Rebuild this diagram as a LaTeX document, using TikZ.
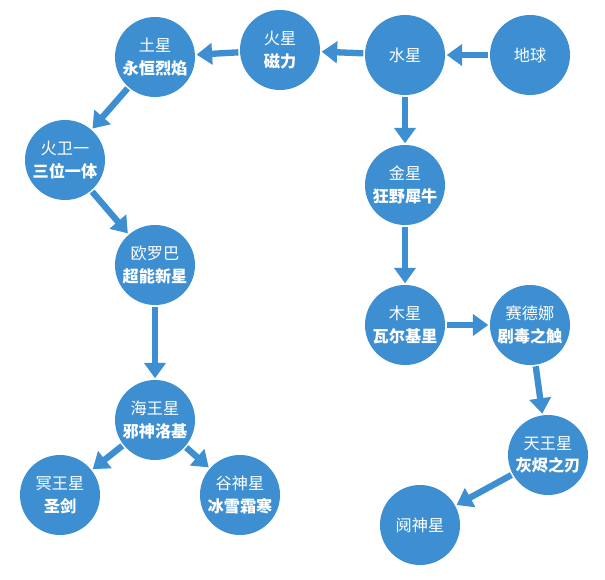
\documentclass[tikz,border=0pt]{standalone}
\usepackage{fontspec}
\setmainfont{Noto Sans CJK SC}
\usetikzlibrary{arrows.meta}
\definecolor{planetblue}{RGB}{61,143,209}
\tikzset{
  planet/.style={circle, fill=planetblue, text=white, minimum size=2cm, inner sep=0pt, align=center, font=\fontsize{11.5}{16}\selectfont},
  link/.style={planetblue, line width=4.5pt, -{Triangle[length=11pt,width=15pt]}, shorten <=1pt, shorten >=1pt}
}
\begin{document}
\begin{tikzpicture}[x=0.025cm, y=-0.025cm]
\useasboundingbox (0,0) rectangle (605,579);

\node[planet] (earth) at (530,55) {地球};
\node[planet] (mercury) at (405,55) {水星};
\node[planet] (mars) at (280,50) {火星\\\textbf{磁力}};
\node[planet] (saturn) at (155,57) {土星\\\textbf{永恒烈焰}};
\node[planet] (phobos) at (65,160) {火卫一\\\textbf{三位一体}};
\node[planet] (europa) at (155,265) {欧罗巴\\\textbf{超能新星}};
\node[planet] (neptune) at (155,420) {海王星\\\textbf{邪神洛基}};
\node[planet] (pluto) at (60,495) {冥王星\\\textbf{圣剑}};
\node[planet] (ceres) at (240,495) {谷神星\\\textbf{冰雪霜寒}};
\node[planet] (venus) at (405,185) {金星\\\textbf{狂野犀牛}};
\node[planet] (jupiter) at (405,325) {木星\\\textbf{瓦尔基里}};
\node[planet] (sedna) at (530,325) {赛德娜\\\textbf{剧毒之触}};
\node[planet] (uranus) at (548,455) {天王星\\\textbf{灰烬之刃}};
\node[planet] (eris) at (420,525) {阋神星};

% route
\draw[link] (earth) -- (mercury);
\draw[link] (mercury) -- (mars);
\draw[link] (mars) -- (saturn);
\draw[link] (saturn) -- (phobos);
\draw[link] (phobos) -- (europa);
\draw[link] (europa) -- (neptune);
\draw[link] (neptune) -- (pluto);
\draw[link] (neptune) -- (ceres);
\draw[link] (mercury) -- (venus);
\draw[link] (venus) -- (jupiter);
\draw[link] (jupiter) -- (sedna);
\draw[link] (sedna) -- (uranus);
\draw[link] (uranus) -- (eris);

\end{tikzpicture}
\end{document}
